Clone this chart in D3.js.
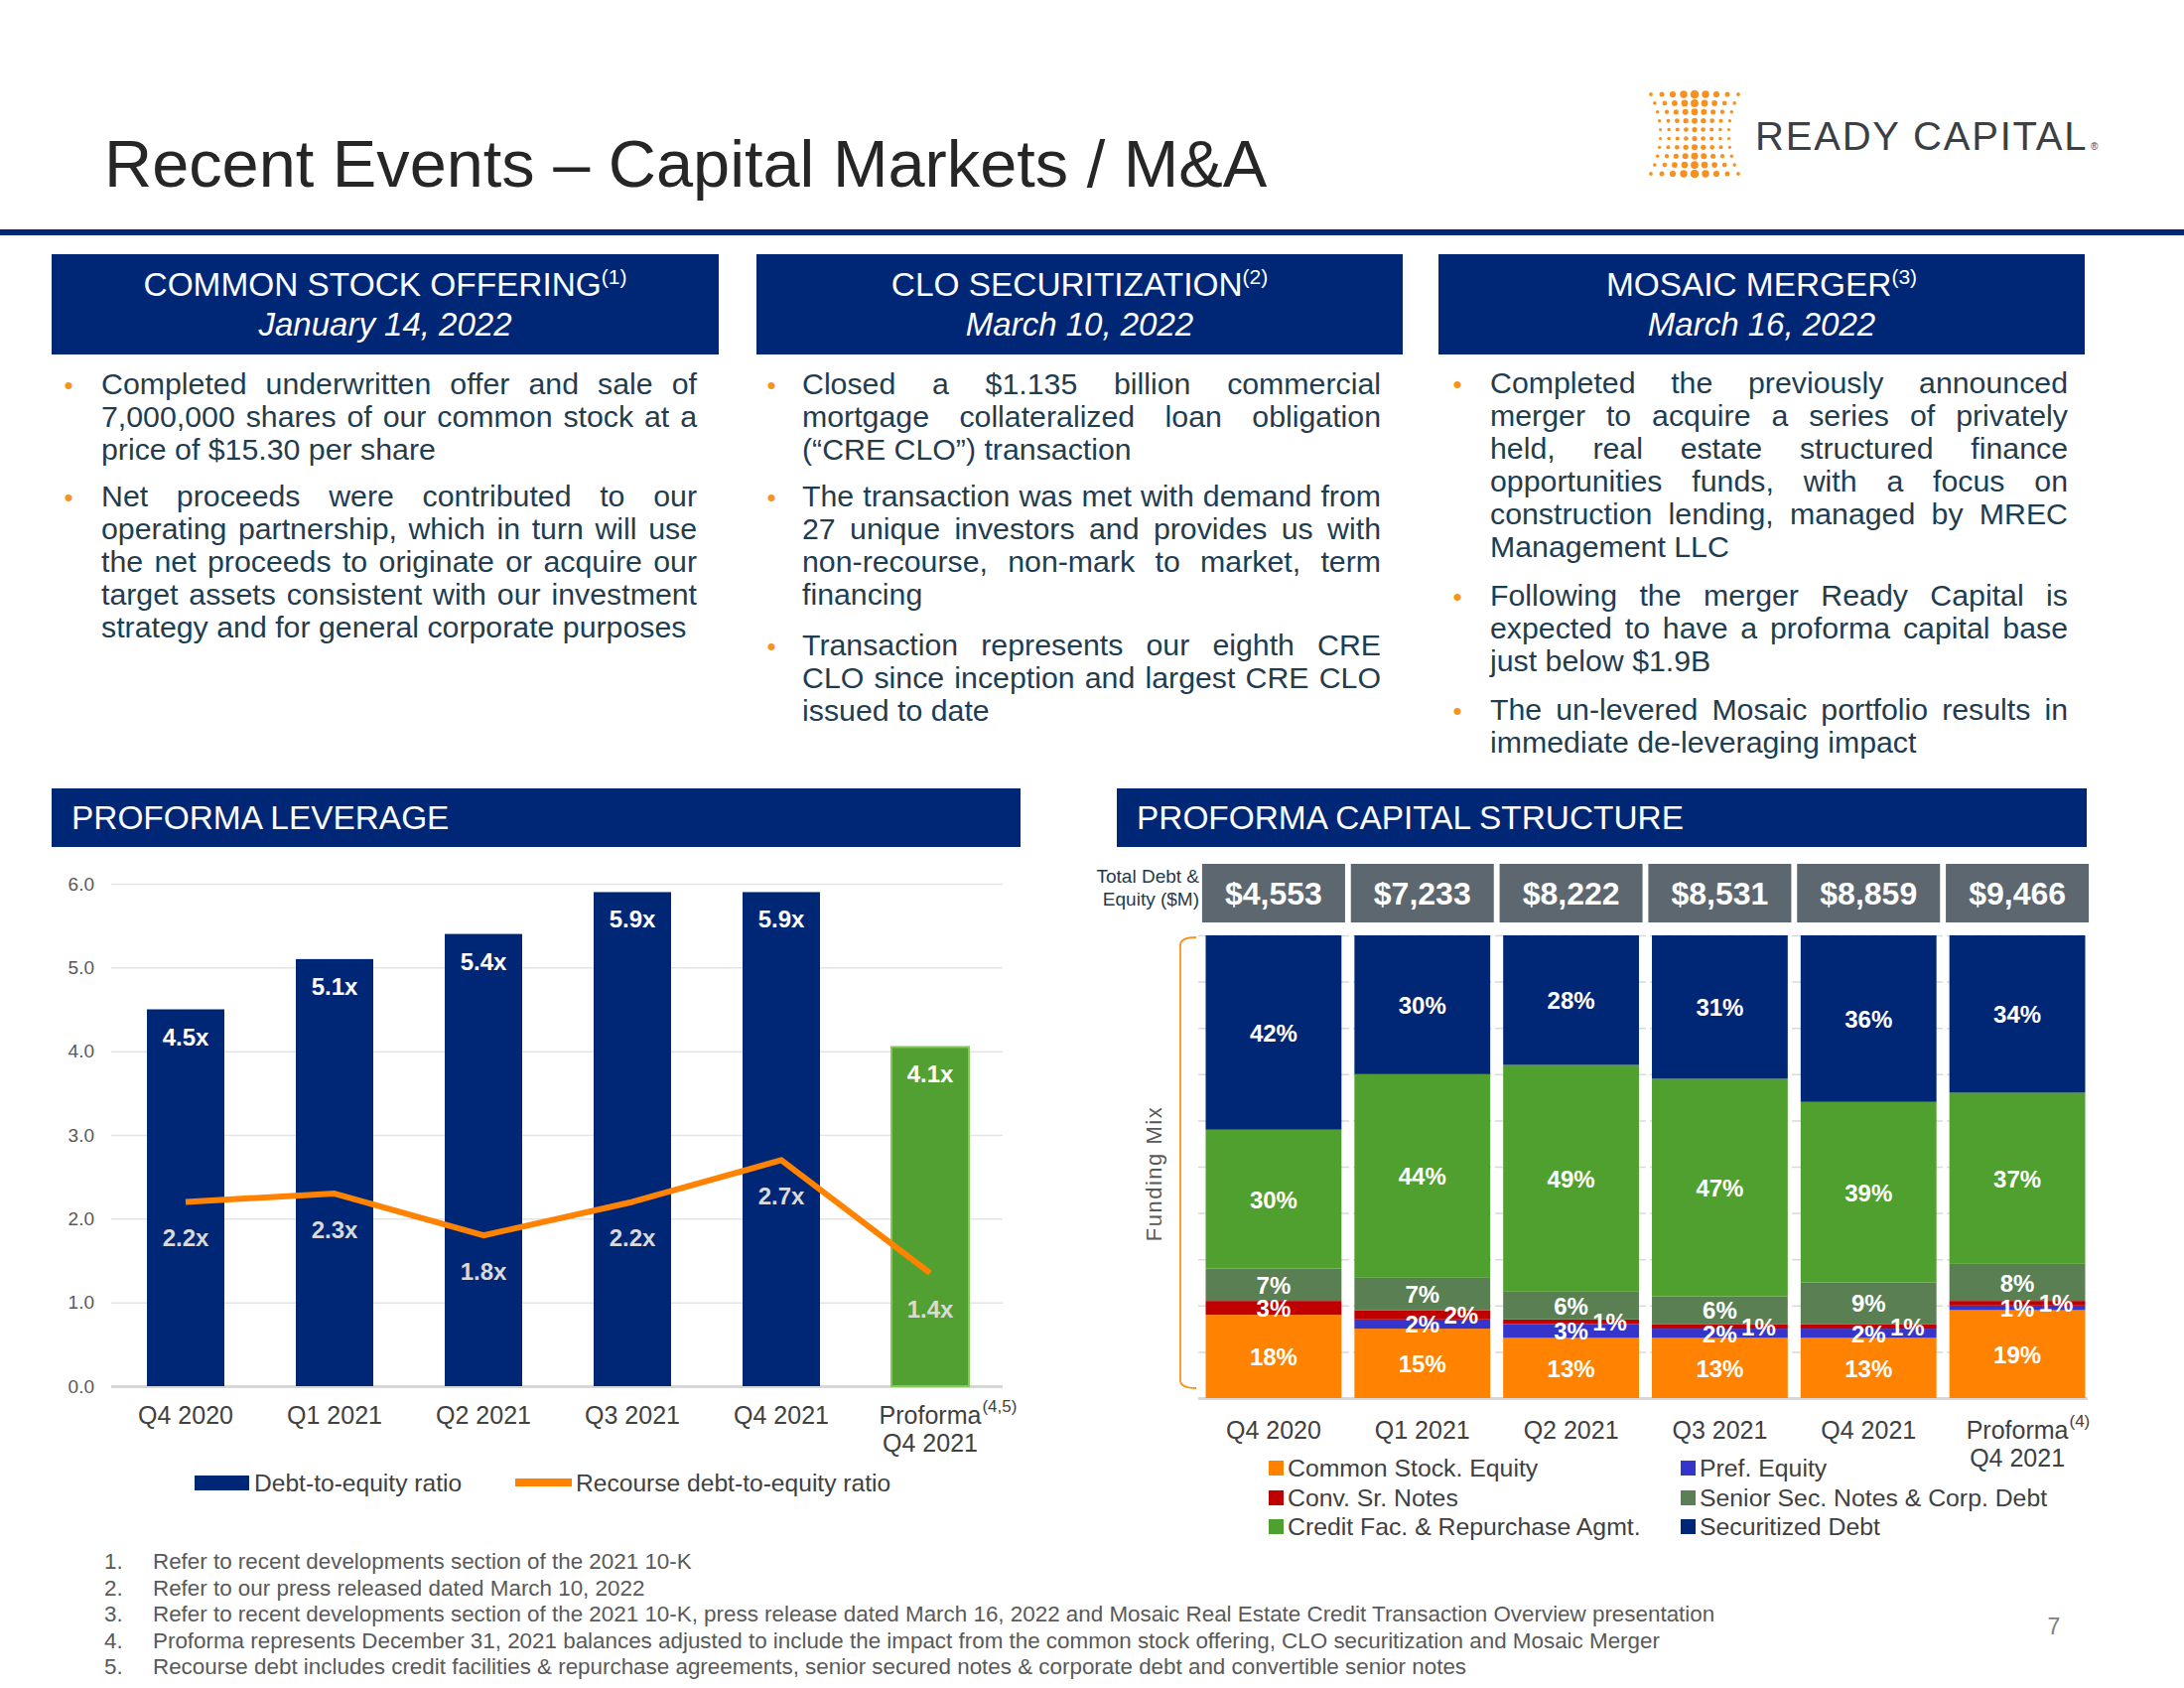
<!DOCTYPE html>
<html><head><meta charset="utf-8">
<script src="https://cdn.jsdelivr.net/npm/d3@7"></script>
<style>
body{margin:0;background:#fff}
svg{display:block}
text{font-family:"Liberation Sans",Arial,Helvetica,sans-serif}
</style>
</head><body>
<svg id="c" width="2200" height="1700"></svg>
<script>
// ---------------- DATA ----------------
const levCats = ["Q4 2020","Q1 2021","Q2 2021","Q3 2021","Q4 2021","Proforma"];
const debtToEquity = [4.5, 5.1, 5.4, 5.9, 5.9, 4.05];
const debtLabels = ["4.5x","5.1x","5.4x","5.9x","5.9x","4.1x"];
const recourseDebt = [2.2, 2.3, 1.8, 2.2, 2.7, 1.35];
const recourseLabels = ["2.2x","2.3x","1.8x","2.2x","2.7x","1.4x"];
const levTicks = [0,1,2,3,4,5,6];

const capCats = ["Q4 2020","Q1 2021","Q2 2021","Q3 2021","Q4 2021","Proforma"];
const totalDebtEquity = [4553, 7233, 8222, 8531, 8859, 9466];
const commonStock = [18, 15, 13, 13, 13, 19];
const prefEquity  = [0, 2, 3, 2, 2, 1];
const convNotes   = [3, 2, 1, 1, 1, 1];
const seniorNotes = [7, 7, 6, 6, 9, 8];
const creditFac   = [30, 44, 49, 47, 39, 37];
const securitized = [42, 30, 28, 31, 36, 34];
const capKeys = ["common","pref","conv","senior","credit","securitized"];
const capLabels = ["Common Stock. Equity","Pref. Equity","Conv. Sr. Notes","Senior Sec. Notes & Corp. Debt","Credit Fac. & Repurchase Agmt.","Securitized Debt"];
const capTicks = [0,10,20,30,40,50,60,70,80,90,100];

// ---------------- SETUP ----------------
const NAVY = "#002776";
const TXT = "#1f3d4f";
const ORANGE_B = "#F7941D";
const capColors = {common:"#FF8200", pref:"#3535CC", conv:"#C00000", senior:"#5A7F52", credit:"#50A030", securitized:"#002776"};
const svg = d3.select("#c");

// Title + rule
svg.append("text").attr("x",105).attr("y",188).attr("font-size",66.7).attr("fill","#262626")
  .text("Recent Events – Capital Markets / M&A");
svg.append("rect").attr("x",0).attr("y",231).attr("width",2200).attr("height",6).attr("fill",NAVY);

// Logo
const logo = svg.append("g");
const lcx = 1707, lcy = 135;
for (let j = 0; j < 10; j++) {
  const t = (j - 4.5) / 4.5;
  const s = 0.78 + 0.22 * t * t;
  for (let i = -4; i <= 4; i++) {
    const r = 1.3 + 3.0 * (1 - Math.abs(i) / 5) * (0.35 + 0.65 * Math.abs(t));
    logo.append("circle").attr("cx", lcx + i * 11 * s).attr("cy", lcy + t * 40).attr("r", r).attr("fill","#F7901E");
  }
}
svg.append("text").attr("x",1768).attr("y",151).attr("font-size",40).attr("fill","#3b4044").attr("letter-spacing",1.8).text("READY CAPITAL");
svg.append("text").attr("x",2106).attr("y",151).attr("font-size",10).attr("fill","#3b4044").text("®");

// Header boxes
const headers = [
  {x:52, w:672, t:"COMMON STOCK OFFERING", sup:"(1)", d:"January 14, 2022"},
  {x:762, w:651, t:"CLO SECURITIZATION", sup:"(2)", d:"March 10, 2022"},
  {x:1449, w:651, t:"MOSAIC MERGER", sup:"(3)", d:"March 16, 2022"}
];
headers.forEach(h => {
  svg.append("rect").attr("x",h.x).attr("y",256).attr("width",h.w).attr("height",101).attr("fill",NAVY);
  const t = svg.append("text").attr("x",h.x+h.w/2).attr("y",298).attr("text-anchor","middle").attr("font-size",33.4).attr("fill","#fff");
  t.append("tspan").text(h.t);
  t.append("tspan").attr("font-size",21).attr("dy",-12).text(h.sup);
  svg.append("text").attr("x",h.x+h.w/2).attr("y",338).attr("text-anchor","middle").attr("font-size",33)
    .attr("font-style","italic").attr("fill","#fff").text(h.d);
});

// Body text (justified)
const BFS = 30.3;
const measurer = svg.append("text").attr("font-size",BFS).attr("x",-1000).attr("y",-1000);
function wWidth(s){ measurer.text(s); return measurer.node().getComputedTextLength(); }
function drawBullets(bullets, bx, x0, x1) {
  bullets.forEach(b => {
    svg.append("text").attr("x",bx).attr("y",b.y+10).attr("text-anchor","middle").attr("font-size",26).attr("fill",ORANGE_B).text("•");
    b.lines.forEach((line,k) => {
      const y = b.y + 10 + k*33;
      if (k === b.lines.length-1) {
        svg.append("text").attr("x",x0).attr("y",y).attr("font-size",BFS).attr("fill",TXT).text(line);
        return;
      }
      const words = line.split(" ");
      const ws = words.map(wWidth);
      const gap = (x1 - x0 - d3.sum(ws)) / (words.length - 1);
      let x = x0;
      words.forEach((w,i) => {
        svg.append("text").attr("x",x).attr("y",y).attr("font-size",BFS).attr("fill",TXT).text(w);
        x += ws[i] + gap;
      });
    });
  });
}
drawBullets([
  {y:387, lines:["Completed underwritten offer and sale of","7,000,000 shares of our common stock at a","price of $15.30 per share"]},
  {y:500, lines:["Net proceeds were contributed to our","operating partnership, which in turn will use","the net proceeds to originate or acquire our","target assets consistent with our investment","strategy and for general corporate purposes"]}
], 69, 102, 702);
drawBullets([
  {y:387, lines:["Closed a $1.135 billion commercial","mortgage collateralized loan obligation","(“CRE CLO”) transaction"]},
  {y:500, lines:["The transaction was met with demand from","27 unique investors and provides us with","non-recourse, non-mark to market, term","financing"]},
  {y:650, lines:["Transaction represents our eighth CRE","CLO since inception and largest CRE CLO","issued to date"]}
], 777, 808, 1391);
drawBullets([
  {y:386, lines:["Completed the previously announced","merger to acquire a series of privately","held, real estate structured finance","opportunities funds, with a focus on","construction lending, managed by MREC","Management LLC"]},
  {y:600, lines:["Following the merger Ready Capital is","expected to have a proforma capital base","just below $1.9B"]},
  {y:715, lines:["The un-levered Mosaic portfolio results in","immediate de-leveraging impact"]}
], 1468, 1501, 2083);
measurer.remove();

// Section bars
[[52,976,"PROFORMA LEVERAGE"],[1125,977,"PROFORMA CAPITAL STRUCTURE"]].forEach(([x,w,t]) => {
  svg.append("rect").attr("x",x).attr("y",794).attr("width",w).attr("height",59).attr("fill",NAVY);
  svg.append("text").attr("x",x+20).attr("y",835).attr("font-size",33.4).attr("fill","#fff").text(t);
});

// ---------------- LEFT CHART ----------------
const xL = d3.scaleBand().domain(levCats).range([112,1012]).paddingInner(0.48).paddingOuter(0.24);
const yL = d3.scaleLinear().domain([0,6]).range([1396,890]);
const gL = svg.append("g");

const yAxL = gL.append("g").attr("transform","translate(112,0)")
  .call(d3.axisLeft(yL).tickValues(levTicks).tickFormat(d3.format(".1f")).tickSize(-898).tickPadding(17));
yAxL.select(".domain").remove();
yAxL.selectAll("line").attr("stroke",d => d===0 ? "#d6d6d6" : "#e4e4e4").attr("stroke-width",d => d===0 ? 3 : 1.5);
yAxL.selectAll("text").attr("font-size",19).attr("fill","#595959").attr("font-family",null);

gL.selectAll("rect.bar").data(levCats).join("rect").attr("class","bar")
  .attr("x",d => xL(d)).attr("width",xL.bandwidth())
  .attr("y",(d,i) => yL(debtToEquity[i])).attr("height",(d,i) => yL(0)-yL(debtToEquity[i]))
  .attr("fill",(d,i) => i===levCats.length-1 ? "#52A032" : NAVY)
  .attr("stroke",(d,i) => i===levCats.length-1 ? "#86C75A" : "none").attr("stroke-width",2);

gL.selectAll("text.top").data(levCats).join("text").attr("class","top")
  .attr("x",d => xL(d)+xL.bandwidth()/2).attr("y",(d,i) => yL(debtToEquity[i])+36)
  .attr("text-anchor","middle").attr("font-size",24).attr("font-weight","bold").attr("fill","#fff")
  .text((d,i) => debtLabels[i]);

const line = d3.line().x((d,i) => xL(levCats[i])+xL.bandwidth()/2).y(d => yL(d));
gL.append("path").datum(recourseDebt).attr("d",line).attr("fill","none").attr("stroke","#FF8200")
  .attr("stroke-width",6).attr("stroke-linejoin","round");

gL.selectAll("text.rec").data(recourseDebt).join("text").attr("class","rec")
  .attr("x",(d,i) => xL(levCats[i])+xL.bandwidth()/2).attr("y",d => yL(d)+45)
  .attr("text-anchor","middle").attr("font-size",24).attr("font-weight","bold").attr("fill","#d9d9d9")
  .text((d,i) => recourseLabels[i]);

const xAxL = gL.append("g").attr("transform","translate(0,1396)")
  .call(d3.axisBottom(xL).tickSize(0).tickPadding(20));
xAxL.select(".domain").remove();
xAxL.selectAll("text").attr("font-size",25).attr("fill","#404040").attr("font-family",null);
function proformaTick(axisG, sup, line2dy) {
  axisG.selectAll(".tick").filter(d => d === "Proforma").each(function() {
    const tk = d3.select(this);
    const t = tk.select("text");
    const w = t.node().getComputedTextLength();
    const y = +t.attr("y");
    tk.append("text").attr("x",w/2+1).attr("y",y).attr("dy","0.71em").attr("font-size",17).attr("fill","#404040")
      .attr("text-anchor","start").attr("transform","translate(0,-6)").text(sup);
    tk.append("text").attr("x",0).attr("y",y+line2dy).attr("dy","0.71em").attr("text-anchor","middle")
      .attr("font-size",25).attr("fill","#404040").text("Q4 2021");
  });
}
proformaTick(xAxL, "(4,5)", 28);

// legend left
gL.append("rect").attr("x",196).attr("y",1486).attr("width",55).attr("height",15).attr("fill",NAVY);
gL.append("text").attr("x",256).attr("y",1502).attr("font-size",24.6).attr("fill","#404040").text("Debt-to-equity ratio");
gL.append("line").attr("x1",519).attr("x2",576).attr("y1",1493).attr("y2",1493).attr("stroke","#FF8200").attr("stroke-width",8);
gL.append("text").attr("x",580).attr("y",1502).attr("font-size",24.6).attr("fill","#404040").text("Recourse debt-to-equity ratio");

// ---------------- RIGHT CHART ----------------
const xR = d3.scaleBand().domain(capCats).range([1208,2107]).paddingInner(0.087).paddingOuter(0.0435);
const yR = d3.scaleLinear().domain([0,100]).range([1408,942]);
const gR = svg.append("g");
const cx = d => xR(d) + xR.bandwidth()/2;

// header totals
gR.append("text").attr("x",1208).attr("y",889).attr("text-anchor","end").attr("font-size",19).attr("fill","#243a4c").text("Total Debt &");
gR.append("text").attr("x",1208).attr("y",912).attr("text-anchor","end").attr("font-size",19).attr("fill","#243a4c").text("Equity ($M)");
gR.selectAll("rect.hdr").data(capCats).join("rect").attr("class","hdr")
  .attr("x",d => cx(d)-72).attr("width",144).attr("y",870).attr("height",59).attr("fill","#5C6770");
gR.selectAll("text.hdr").data(capCats).join("text").attr("class","hdr")
  .attr("x",d => cx(d)).attr("y",911).attr("text-anchor","middle").attr("font-size",32).attr("font-weight","bold").attr("fill","#fff")
  .text((d,i) => "$" + d3.format(",")(totalDebtEquity[i]));

// gridlines
const yAxR = gR.append("g").attr("transform","translate(1207,0)")
  .call(d3.axisLeft(yR).tickValues(capTicks).tickFormat("").tickSize(-896));
yAxR.select(".domain").remove();
yAxR.selectAll("line").attr("stroke",d => d===0 ? "#d6d6d6" : "#d9d9d9")
  .attr("stroke-width",d => d===0 ? 3 : 1.5).attr("stroke-dasharray",d => d===0 ? null : "9,4");

// bracket + axis title
gR.append("path").attr("d","M1205,944 Q1189,944 1189,952 L1189,1390 Q1189,1398 1205,1398")
  .attr("fill","none").attr("stroke",ORANGE_B).attr("stroke-width",1.8);
gR.append("text").attr("transform","translate(1170,1182) rotate(-90)").attr("text-anchor","middle")
  .attr("font-size",22).attr("letter-spacing",1.5).attr("fill","#595959").text("Funding Mix");

const capRows = capCats.map((c,i) => ({cat:c, common:commonStock[i], pref:prefEquity[i], conv:convNotes[i],
  senior:seniorNotes[i], credit:creditFac[i], securitized:securitized[i]}));
const series = d3.stack().keys(capKeys)(capRows);

const sg = gR.selectAll("g.series").data(series).join("g").attr("class","series").attr("fill",s => capColors[s.key]);
sg.selectAll("rect").data(s => s).join("rect")
  .attr("x",d => xR(d.data.cat)).attr("width",xR.bandwidth())
  .attr("y",d => yR(d[1])).attr("height",d => yR(d[0]) - yR(d[1]));

const labelData = [];
series.forEach(s => s.forEach(d => {
  const v = d[1] - d[0];
  if (v <= 0) return;
  const shift = (s.key === "conv" && v < 3) ? 39 : 0;
  labelData.push({x: cx(d.data.cat) + shift, y: (yR(d[0]) + yR(d[1]))/2 + 9, t: v + "%"});
}));
gR.selectAll("text.seg").data(labelData).join("text").attr("class","seg")
  .attr("x",d => d.x).attr("y",d => d.y).attr("text-anchor","middle")
  .attr("font-size",24).attr("font-weight","bold").attr("fill","#fff").text(d => d.t);

const xAxR = gR.append("g").attr("transform","translate(0,1408)")
  .call(d3.axisBottom(xR).tickSize(0).tickPadding(23));
xAxR.select(".domain").remove();
xAxR.selectAll("text").attr("font-size",25).attr("fill","#404040").attr("font-family",null);
proformaTick(xAxR, "(4)", 28);

// legend right
const legPos = [[1278,1478],[1693,1478],[1278,1508],[1693,1508],[1278,1537],[1693,1537]];
const legOrder = ["common","pref","conv","senior","credit","securitized"];
legOrder.forEach((k,i) => {
  const [lx,ly] = legPos[i];
  gR.append("rect").attr("x",lx).attr("y",ly-7).attr("width",15).attr("height",15).attr("fill",capColors[k]);
  gR.append("text").attr("x",lx+19).attr("y",ly+9).attr("font-size",24.8).attr("fill","#404040").text(capLabels[capKeys.indexOf(k)]);
});

// ---------------- FOOTNOTES ----------------
const notes = [
  "Refer to recent developments section of the 2021 10-K",
  "Refer to our press released dated March 10, 2022",
  "Refer to recent developments section of the 2021 10-K, press release dated March 16, 2022 and Mosaic Real Estate Credit Transaction Overview presentation",
  "Proforma represents December 31, 2021 balances adjusted to include the impact from the common stock offering, CLO securitization and Mosaic Merger",
  "Recourse debt includes credit facilities & repurchase agreements, senior secured notes & corporate debt and convertible senior notes"
];
notes.forEach((n,i) => {
  const y = 1580 + i*26.6;
  svg.append("text").attr("x",105).attr("y",y).attr("font-size",22.4).attr("fill","#595959").text((i+1)+".");
  svg.append("text").attr("x",154).attr("y",y).attr("font-size",22.4).attr("fill","#595959").text(n);
});
svg.append("text").attr("x",2069).attr("y",1646).attr("text-anchor","middle").attr("font-size",23).attr("fill","#7f7f7f").text("7");
</script>
</body></html>
